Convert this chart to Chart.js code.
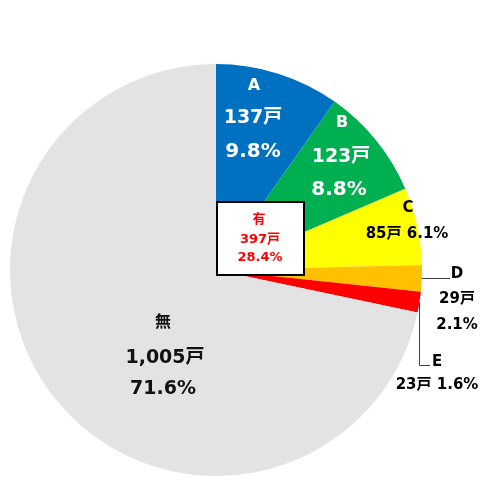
<!DOCTYPE html>
<html>
<head>
<meta charset="utf-8">
<script src="https://cdn.jsdelivr.net/npm/chart.js@4"></script>
<style>
  html, body { margin: 0; padding: 0; background: #fff; }
  #wrap { width: 482px; height: 477px; }
</style>
</head>
<body>
<div id="wrap"><canvas id="pie" width="482" height="477"></canvas></div>
<script>
const categories = ["A", "B", "C", "D", "E", "無"];
const households = [137, 123, 85, 29, 23, 1005];
const percents = [9.8, 8.8, 6.1, 2.1, 1.6, 71.6];
const sliceColors = ["#0070C0", "#00B050", "#FFFF00", "#FFC000", "#FF0000", "#E3E3E3"];

const hasLabel = "有";
const hasHouseholds = 397;
const hasPercent = 28.4;

const FONT = '"DejaVu Sans", "Noto Sans CJK JP", sans-serif';
const unit = "戸";

function fmtCount(n) { return n.toLocaleString("en-US") + unit; }
function fmtPct(p) { return p.toFixed(1) + "%"; }

// label placement, offsets from pie centre (px)
const labelStyle = [
  { lines: i => [categories[i], fmtCount(households[i]), fmtPct(percents[i])], dx: [38, 37, 37], dy: [-184, -152, -118], size: [16, 19, 20], color: "#fff" },
  { lines: i => [categories[i], fmtCount(households[i]), fmtPct(percents[i])], dx: [126, 125, 123], dy: [-147, -113, -80], size: [16, 19, 20], color: "#fff" },
  { lines: i => [categories[i], fmtCount(households[i]) + " " + fmtPct(percents[i])], dx: [192, 191], dy: [-62, -36], size: [15, 15], color: "#000" },
  { lines: i => [categories[i], fmtCount(households[i]), fmtPct(percents[i])], dx: [241, 241, 241], dy: [4, 29, 55], size: [15, 15, 15], color: "#000" },
  { lines: i => [categories[i], fmtCount(households[i]) + " " + fmtPct(percents[i])], dx: [221, 221], dy: [92, 115], size: [15, 15], color: "#000" },
  { lines: i => [categories[i], fmtCount(households[i]), fmtPct(percents[i])], dx: [-53, -51, -53], dy: [53, 88, 119], size: [16, 19, 19], color: "#111" }
];

const labelPlugin = {
  id: "pieLabels",
  afterDatasetsDraw(chart) {
    const ctx = chart.ctx;
    const arcs = chart.getDatasetMeta(0).data;
    const cx = arcs[0].x, cy = arcs[0].y, R = arcs[0].outerRadius;

    // leader lines for D and E
    ctx.save();
    ctx.strokeStyle = "#404040";
    ctx.lineWidth = 1;
    const edge = a => {
      const m = (a.startAngle + a.endAngle) / 2;
      return [cx + R * Math.cos(m), cy + R * Math.sin(m)];
    };
    let [x, y] = edge(arcs[3]);
    ctx.beginPath();
    ctx.moveTo(x, Math.round(y) + 0.5);
    ctx.lineTo(cx + 234, Math.round(y) + 0.5);
    ctx.stroke();
    [x, y] = edge(arcs[4]);
    ctx.beginPath();
    ctx.moveTo(Math.round(x) + 0.5, y);
    ctx.lineTo(Math.round(x) + 0.5, cy + 95.5);
    ctx.lineTo(cx + 214, cy + 95.5);
    ctx.stroke();
    ctx.restore();

    // slice labels
    ctx.save();
    ctx.textAlign = "center";
    ctx.textBaseline = "middle";
    labelStyle.forEach((s, i) => {
      const lines = s.lines(i);
      ctx.fillStyle = s.color;
      lines.forEach((t, k) => {
        ctx.font = "bold " + s.size[k] + "px " + FONT;
        ctx.fillText(t, cx + s.dx[k], cy + s.dy[k]);
      });
    });

    // 有 summary box
    const bx = cx + 1, by = cy - 68, bw = 87, bh = 73;
    ctx.fillStyle = "#fff";
    ctx.fillRect(bx, by, bw, bh);
    ctx.strokeStyle = "#000";
    ctx.lineWidth = 2;
    ctx.strokeRect(bx, by, bw, bh);
    ctx.fillStyle = "#FF0000";
    ctx.font = "bold 13px " + FONT;
    ctx.fillText(hasLabel, bx + 42, by + 18);
    ctx.fillText(fmtCount(hasHouseholds), bx + 43, by + 38);
    ctx.fillText(fmtPct(hasPercent), bx + 43, by + 56);
    ctx.restore();
  }
};

new Chart(document.getElementById("pie"), {
  type: "pie",
  data: {
    labels: categories,
    datasets: [{
      data: households,
      backgroundColor: sliceColors,
      borderWidth: 0
    }]
  },
  options: {
    responsive: false,
    animation: false,
    devicePixelRatio: 1,
    layout: { padding: { left: 10, top: 64, right: 60, bottom: 1 } },
    plugins: { legend: { display: false }, tooltip: { enabled: false } }
  },
  plugins: [labelPlugin]
});
</script>
</body>
</html>
